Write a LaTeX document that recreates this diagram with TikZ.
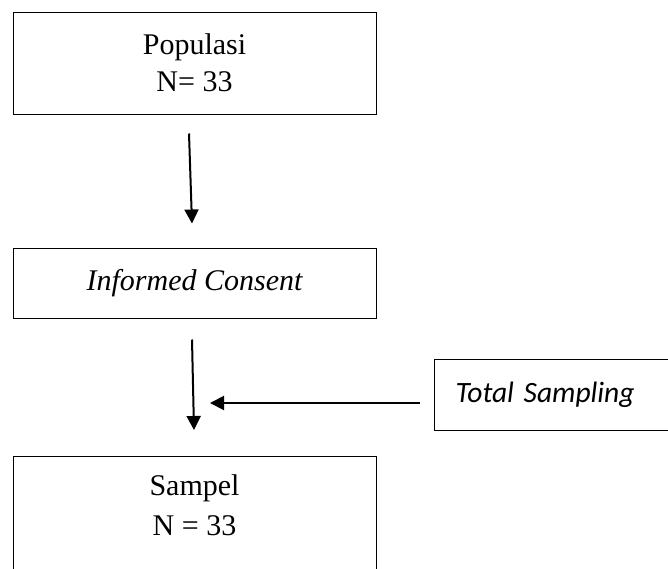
\documentclass[tikz,border=0pt]{standalone}
\usepackage{fontspec}
\setmainfont{Liberation Serif}
\newfontfamily\calibrifont{Carlito}
\usetikzlibrary{arrows.meta}

\begin{document}
\begin{tikzpicture}[x=1pt, y=-1pt, >={Triangle[length=14pt, width=14pt]},
  kotak/.style={draw, line width=1pt, minimum width=363pt, inner sep=0pt,
    align=center, font=\fontsize{30}{37}\selectfont},
  panah/.style={->, line width=2pt}]
  \useasboundingbox (0,0) rectangle (668,568);
  \clip (0,0) rectangle (668,568);
  % kotak alur
  \node[kotak, minimum height=102pt] (pop) at (194.5,63) {Populasi\\N= 33};
  \node[kotak, minimum height=70pt] (ic) at (194.5,283) {\itshape Informed Consent};
  \node[kotak, minimum height=140pt, anchor=north] (sampel) at (194.5,456) {};
  \node[align=center, inner sep=0pt, font=\fontsize{30}{40}\selectfont]
    (sampeltxt) at (194.5,505.5) {Sampel\\N = 33};
  \node[draw, line width=1pt, anchor=west, minimum height=71pt, text width=208pt,
    inner xsep=21pt, inner ysep=0pt, align=left,
    font=\calibrifont\itshape\fontsize{29.5}{34}\selectfont] (ts) at (434,394.5) {Total Sampling};
  % panah
  \coordinate (gabung) at (210,403);
  \draw[panah] ([shift={(-5.5,19)}]pop.south) -- ([shift={(-2.5,-24)}]ic.north);
  \draw[panah] ([shift={(-2.5,21)}]ic.south) -- ([shift={(-0.5,-26)}]sampel.north);
  \draw[panah] ([shift={(-14,8.5)}]ts.west) -- (gabung);
\end{tikzpicture}
\end{document}
